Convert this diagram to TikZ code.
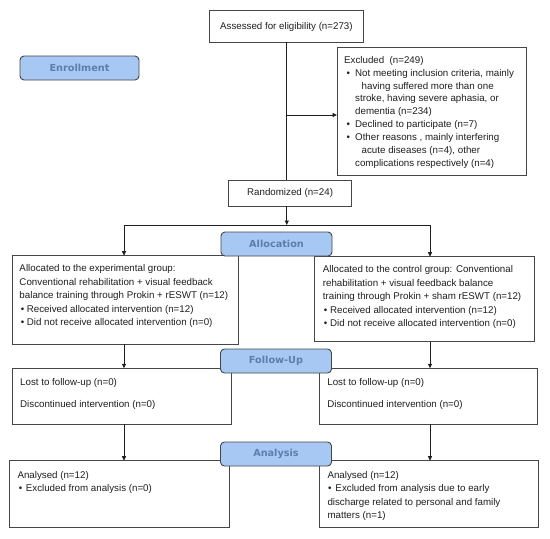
\documentclass[tikz,border=0pt]{standalone}
\usepackage{fontspec}
\setmainfont{Liberation Sans}
\newfontfamily\labfont{DejaVu Sans}
\usetikzlibrary{arrows.meta}
\definecolor{lblfill}{RGB}{168,200,244}
\definecolor{lbltext}{RGB}{92,126,172}
\definecolor{edge}{RGB}{70,70,70}
\definecolor{ink}{RGB}{30,30,30}
\newcommand\bulx[2]{\makebox[#1][l]{\hspace{#2}•}}
\begin{document}
\begin{tikzpicture}[x=1pt,y=-1pt,
 box/.style={draw=edge, line width=0.9pt, anchor=north west, inner sep=0pt, outer sep=0pt, text=ink, font=\fontsize{9.75}{13}\selectfont},
 lab/.style={draw=edge, line width=0.9pt, fill=lblfill, rounded corners=4pt, text=lbltext, font=\labfont\bfseries\fontsize{9.7}{11}\selectfont, inner sep=0pt, minimum width=111pt, minimum height=24pt},
 txt/.style={anchor=north west, inner sep=0pt, align=left, text=ink},
 tA/.style={txt, font=\fontsize{9.75}{12.9}\selectfont},
 tB/.style={txt, font=\fontsize{9.75}{13.5}\selectfont},
 arr/.style={draw=ink, line width=0.8pt, -{Triangle[length=4.5pt,width=4pt]}},
 ln/.style={draw=ink, line width=0.8pt}]
\useasboundingbox (0,0) rectangle (550,539);
% boxes
\node[box, minimum width=153.8pt, minimum height=31.6pt] (assess) at (209.5,10.7) {Assessed for eligibility (n=273)};
\node[box, minimum width=189pt, minimum height=127.7pt] (excl) at (337,47.3) {};
\node[box, minimum width=123.2pt, minimum height=26pt] (rand) at (228.5,180) {Randomized (n=24)};
\node[box, minimum width=226.1pt, minimum height=88.3pt] (allocL) at (12.4,255.7) {};
\node[box, minimum width=219.5pt, minimum height=85pt] (allocR) at (314.5,256.7) {};
\node[box, minimum width=218.4pt, minimum height=56pt] (fuL) at (12.6,368.3) {};
\node[box, minimum width=218.8pt, minimum height=56pt] (fuR) at (319,368.3) {};
\node[box, minimum width=220pt, minimum height=67pt] (anL) at (9.3,460.7) {};
\node[box, minimum width=219.3pt, minimum height=67pt] (anR) at (319,460.7) {};
% texts
\node[tA] (exclT) at (344,54) {\strut Excluded\ \ (n=249)\\
\bulx{11pt}{2.5pt}Not meeting inclusion criteria, mainly\\
\hspace*{17.5pt}having suffered more than one\\
\hspace*{11pt}stroke, having severe aphasia, or\\
\hspace*{11pt}dementia (n=234)\\
\bulx{11pt}{2.5pt}Declined to participate (n=7)\\
\bulx{11pt}{2.5pt}Other reasons , mainly interfering\\
\hspace*{17.5pt}acute diseases (n=4), other\\
\hspace*{11pt}complications respectively (n=4)};
\node[tB] (allocLT) at (19.3,262) {\strut Allocated to the experimental group:\\
Conventional rehabilitation + visual feedback\\
balance training through Prokin + rESWT (n=12)\\
\bulx{7.4pt}{1.5pt}Received allocated intervention (n=12)\\
\bulx{7.4pt}{1.5pt}Did not receive allocated intervention (n=0)};
\node[tB] (allocRT) at (322.7,263) {\strut Allocated to the control group: Conventional\\
rehabilitation + visual feedback balance\\
training through Prokin + sham rESWT (n=12)\\
\bulx{7.3pt}{1pt}Received allocated intervention (n=12)\\
\bulx{7.3pt}{1pt}Did not receive allocated intervention (n=0)};
\node[tB] (fuLT) at (20,375.5) {\strut Lost to follow-up (n=0)\\[8.5pt]
Discontinued intervention (n=0)};
\node[tB] (fuRT) at (327.2,375.5) {\strut Lost to follow-up (n=0)\\[8.5pt]
Discontinued intervention (n=0)};
\node[tB] (anLT) at (17.3,468.5) {\strut Analysed (n=12)\\
\bulx{8.4pt}{1.5pt}Excluded from analysis (n=0)};
\node[tB] (anRT) at (327.3,468.5) {\strut Analysed (n=12)\\
\bulx{8pt}{0.5pt}Excluded from analysis due to early\\
discharge related to personal and family\\
matters (n=1)};
% connectors
\coordinate (jM) at (286.8,225);
\coordinate (jL) at (124,225);
\coordinate (jR) at (430,225);
\coordinate (ex) at (286.8,115);
\draw[ln] (assess.south -| jM) -- (rand.north -| jM);
\draw[arr] (ex) -- (excl.west |- ex);
\draw[arr] (rand.south -| jM) -- (jM);
\draw[ln] (jL) -- (jR);
\draw[arr] (jL) -- (allocL.north -| jL);
\draw[arr] (jR) -- (allocR.north -| jR);
\draw[arr] (allocL.south -| jL) -- (fuL.north -| jL);
\draw[arr] (allocR.south -| jR) -- (fuR.north -| jR);
\draw[arr] (fuL.south -| jL) -- (anL.north -| jL);
\draw[arr] (fuR.south -| jR) -- (anR.north -| jR);
% stage labels
\node[lab, minimum width=119pt] (enr) at (79.5,68) {Enrollment};
\node[lab] (alc) at (276.5,244) {Allocation};
\node[lab] (fup) at (276,361) {Follow-Up};
\node[lab] (ana) at (276,454) {Analysis};
\end{tikzpicture}
\end{document}
